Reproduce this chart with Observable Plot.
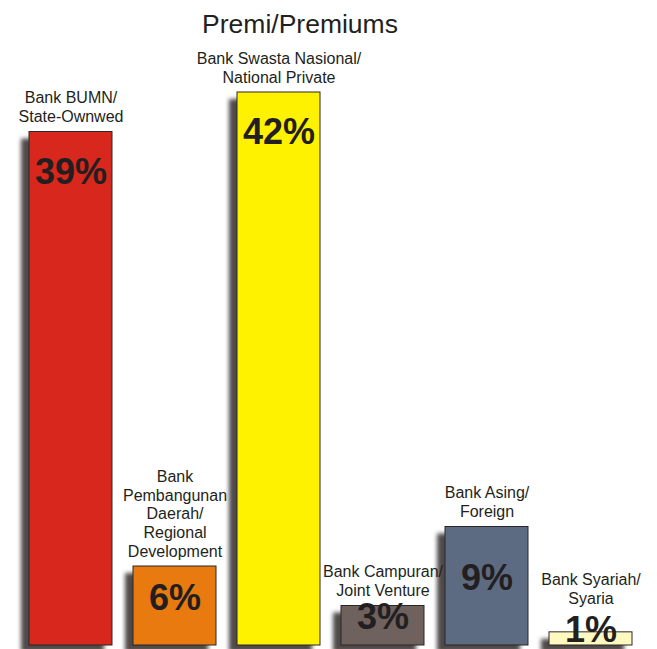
<!DOCTYPE html>
<html>
<head>
<meta charset="utf-8">
<script src="https://cdn.jsdelivr.net/npm/d3@7"></script>
<script src="https://cdn.jsdelivr.net/npm/@observablehq/plot@0.6"></script>
<style>
  html, body { margin: 0; padding: 0; background: #fff; }
  #wrap { position: relative; width: 657px; height: 649px; overflow: hidden; font-family: "Liberation Sans", Arial, sans-serif; }
  #title { position: absolute; left: 0; width: 600px; top: 9px; text-align: center; font-size: 26.5px; color: #231f20; }
</style>
</head>
<body>
<div id="wrap">
  <div id="title">Premi/Premiums</div>
</div>
<script>
const categories = [
  "Bank BUMN/\nState-Ownwed",
  "Bank\nPembangunan\nDaerah/\nRegional\nDevelopment",
  "Bank Swasta Nasional/\nNational Private",
  "Bank Campuran/\nJoint Venture",
  "Bank Asing/\nForeign",
  "Bank Syariah/\nSyaria"
];
const values = [39, 6, 42, 3, 9, 1];
const colors = ["#d8271d", "#e87a10", "#fff200", "#6e615e", "#5d6b82", "#fff9c0"];

const data = categories.map((c, i) => ({ category: c, value: values[i], color: colors[i] }));

const chart = Plot.plot({
  width: 657,
  height: 649,
  marginLeft: 19,
  marginRight: 14,
  marginTop: 92,
  marginBottom: 4,
  style: { fontFamily: "'Liberation Sans', Arial, sans-serif", background: "transparent", overflow: "visible" },
  x: { domain: categories, axis: null, paddingInner: 0.2, paddingOuter: 0.1 },
  y: { domain: [0, 42], axis: null },
  marks: [
    Plot.barY(data, { x: "category", y: "value", fill: "#4f4a48", dx: -8, dy: 7, ariaDescription: "shadow" }),
    Plot.barY(data, { x: "category", y: "value", fill: "color", stroke: "#2b2626", strokeWidth: 1 }),
    Plot.text(data, { x: "category", y: d => Math.max(d.value, 2.4), text: "category", lineAnchor: "bottom", dy: -10, fontSize: 16, fill: "#231f20", lineHeight: 1.16 }),
    Plot.text(data.filter(d => d.value > 20), { x: "category", y: "value", text: d => `${d.value}%`, lineAnchor: "middle", dy: 40, fontSize: 36, fontWeight: "bold", fill: "#231f20" }),
    Plot.text(data.filter(d => d.value <= 20), { x: "category", y: d => d.value / 2, text: d => `${d.value}%`, lineAnchor: "middle", dy: -8, fontSize: 36, fontWeight: "bold", fill: "#231f20" })
  ]
});

const ns = "http://www.w3.org/2000/svg";
const defs = document.createElementNS(ns, "defs");
defs.innerHTML = '<filter id="shadowBlur" x="-20%" y="-20%" width="140%" height="140%"><feGaussianBlur stdDeviation="2"/></filter>';
chart.insertBefore(defs, chart.firstChild);
const sh = chart.querySelector('[aria-description="shadow"]');
if (sh) sh.setAttribute("filter", "url(#shadowBlur)");

const wrap = document.getElementById("wrap");
chart.style.position = "absolute";
chart.style.left = "0";
chart.style.top = "0";
wrap.insertBefore(chart, wrap.firstChild);
</script>
</body>
</html>
